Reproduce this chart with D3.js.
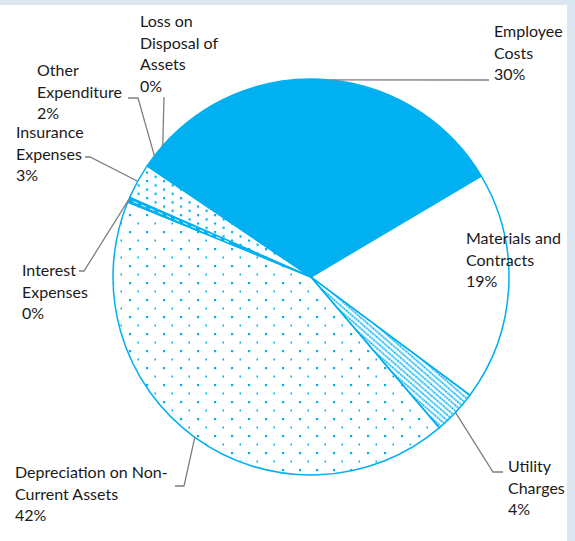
<!DOCTYPE html>
<html lang="en">
<head>
<meta charset="UTF-8">
<title>Expenditure breakdown</title>
<style>
    body { margin: 0; background: #fff; }
    #chart text { font-family: Lato, "Noto Sans", sans-serif; font-size: 16px; fill: #1a1a1a; }
</style>
</head>
<body>
<div id="chart"></div>
<script src="https://d3js.org/d3.v7.min.js"></script>
<script>
// slices, clockwise from the left edge of the solid blue block
const categories = ["Employee Costs", "Materials and Contracts", "Utility Charges",
    "Depreciation on Non-Current Assets", "Interest Expenses", "Insurance Expenses",
    "Other Expenditure", "Loss on Disposal of Assets"];
const shares = [29.9, 18.7, 3.6, 42.4, 0.4, 2.9, 2.0, 0.1];
const pctLabels = ["30%", "19%", "4%", "42%", "0%", "3%", "2%", "0%"];
const labelLines = [
    ["Employee", "Costs"],
    ["Materials and", "Contracts"],
    ["Utility", "Charges"],
    ["Depreciation on Non-", "Current Assets"],
    ["Interest", "Expenses"],
    ["Insurance", "Expenses"],
    ["Other", "Expenditure"],
    ["Loss on", "Disposal of", "Assets"]
];

const W = 575, H = 541;
const cx = 311, cy = 277, R = 198;
const blue = "#00b0f0";
const fills = ["solid", "white", "lines", "dotsWide", "solid", "dotsTight", "solid", "solid"];

// label placement: left x, first baseline, leader elbow points
const labelPos = [
    {x: 494, y: 37, elbow: [[489, 80]]},
    {x: 466, y: 244, elbow: null},
    {x: 508, y: 472, elbow: [[493, 472], [503, 472]]},
    {x: 15, y: 478, elbow: [[184, 486], [175, 486]]},
    {x: 22, y: 276, elbow: [[84, 271], [79, 271]]},
    {x: 16, y: 138, elbow: [[90, 157], [85, 157]]},
    {x: 37, y: 76, elbow: [[138, 98], [128, 98]]},
    {x: 140, y: 27, elbow: [[164, 97]]}
];
const lineH = 21.6;

const svg = d3.select("#chart").append("svg")
    .attr("width", W)
    .attr("height", H);

svg.append("rect").attr("width", W).attr("height", H).attr("fill", "#fff");
svg.append("rect").attr("width", W).attr("height", 5).attr("fill", "#dce6f0");
svg.append("rect").attr("x", 567).attr("width", 8).attr("height", H).attr("fill", "#dce6f0");

const defs = svg.append("defs");

const pw = defs.append("pattern").attr("id", "dotsWide")
    .attr("patternUnits", "userSpaceOnUse")
    .attr("width", 17).attr("height", 17)
    .attr("x", cx).attr("y", cy);
pw.append("rect").attr("width", 2.2).attr("height", 2.2).attr("fill", blue);
pw.append("rect").attr("x", 8.5).attr("y", 8.5).attr("width", 1.5).attr("height", 2).attr("fill", blue);

const pt = defs.append("pattern").attr("id", "dotsTight")
    .attr("patternUnits", "userSpaceOnUse")
    .attr("width", 17).attr("height", 8.5)
    .attr("x", cx).attr("y", cy);
pt.append("rect").attr("width", 2.2).attr("height", 2.2).attr("fill", blue);
pt.append("rect").attr("x", 8.5).attr("y", 4.25).attr("width", 2.2).attr("height", 2.2).attr("fill", blue);

const pl = defs.append("pattern").attr("id", "lines")
    .attr("patternUnits", "userSpaceOnUse")
    .attr("width", 8).attr("height", 4.2)
    .attr("patternTransform", "rotate(41)");
pl.append("line").attr("x1", 0).attr("x2", 8).attr("y1", 2.1).attr("y2", 2.1)
    .attr("stroke", blue).attr("stroke-width", 1.6)
    .attr("stroke-dasharray", "2 0.7");

const fillFor = f => f === "solid" ? blue : f === "white" ? "#fff" : "url(#" + f + ")";

const data = categories.map((c, i) => ({name: c, value: shares[i], i: i}));

const pie = d3.pie()
    .sort(null)
    .value(d => d.value)
    .startAngle(-48.3 * Math.PI / 180)
    .endAngle((360 - 48.3) * Math.PI / 180);

const arcs = pie(data);
const arc = d3.arc().innerRadius(0).outerRadius(R);
const rim = d3.arc().innerRadius(R).outerRadius(R);

const g = svg.append("g").attr("transform", "translate(" + cx + "," + cy + ")");

g.selectAll("path.slice")
    .data(arcs)
    .enter().append("path")
    .attr("class", "slice")
    .attr("d", arc)
    .attr("fill", d => fillFor(fills[d.data.i]))
    .attr("stroke", blue)
    .attr("stroke-width", 1.5)
    .attr("stroke-linejoin", "round");

// the thin interest slice shows white dashes down its middle
const thin = arcs[4];
const midA = (thin.startAngle + thin.endAngle) / 2;
g.append("line")
    .attr("x1", Math.sin(midA) * R * 0.45).attr("y1", -Math.cos(midA) * R * 0.45)
    .attr("x2", Math.sin(midA) * (R - 3)).attr("y2", -Math.cos(midA) * (R - 3))
    .attr("stroke", "#fff").attr("stroke-width", 0.9)
    .attr("stroke-dasharray", "5 4");

// leader lines
arcs.forEach(d => {
    const lp = labelPos[d.data.i];
    if (!lp.elbow) return;
    const p = rim.centroid(d);
    const pts = [[cx + p[0], cy + p[1]]].concat(lp.elbow);
    svg.append("path")
        .attr("d", d3.line()(pts))
        .attr("fill", "none")
        .attr("stroke", "#7f7f7f")
        .attr("stroke-width", 1.3);
});

// labels
arcs.forEach(d => {
    const i = d.data.i, lp = labelPos[i];
    const lines = labelLines[i].concat([pctLabels[i]]);
    const t = svg.append("text").attr("x", lp.x).attr("y", lp.y);
    lines.forEach((s, k) => {
        t.append("tspan").attr("x", lp.x).attr("y", lp.y + k * lineH).text(s);
    });
});
</script>
</body>
</html>
